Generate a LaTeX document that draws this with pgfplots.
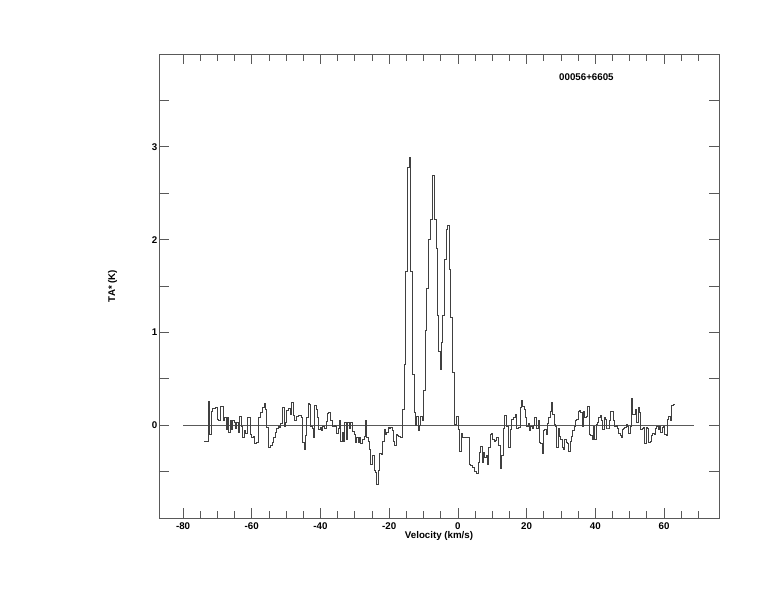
\documentclass[border=0pt]{standalone}
\usepackage{pgfplots}
\pgfplotsset{compat=1.18}
\usepackage{fontspec}
\setmainfont{Liberation Sans}
\begin{document}
\begin{tikzpicture}
\useasboundingbox (-119.25pt,-70.5pt) rectangle (461.25pt,388.5pt);
\begin{axis}[
  at={(0,0)}, anchor=south west,
  scale only axis, width=420pt, height=348pt,
  xmin=-87, xmax=76, ymin=-1, ymax=4,
  axis line style={black!65, line width=0.6pt},
  every tick/.style={black!65, line width=0.6pt},
  tick align=inside,
  major tick length=7.5pt, minor tick length=5.5pt,
  xtick={-80,-60,...,60},
  minor xtick={-75,-70,...,70},
  ytick={-0.5,0,...,3.5},
  yticklabels={,0,,1,,2,,3,},
  /pgf/number format/assume math mode=true,
  ticklabel style={font=\fontsize{7.3}{8}\selectfont\bfseries},
  xticklabel style={inner sep=0pt, yshift=-3.5pt},
  yticklabel style={inner sep=0pt, xshift=-1pt},
  xlabel={\fontsize{7.3}{8}\selectfont\bfseries Velocity (km/s)},
  ylabel={\fontsize{7.3}{8}\selectfont\bfseries TA* (K)},
  xlabel style={inner sep=0pt, yshift=-1pt},
  ylabel style={inner sep=0pt, yshift=26pt},
  clip=false,
]
\addplot[black!65, line width=0.6pt] coordinates {(-80,0) (68.6,0)};
\addplot[const plot, black!75, line width=0.6pt] coordinates {
(-73.88,-0.17) (-72.72,0.26) (-72.33,-0.10) (-71.75,0.15) (-71.36,0.18) (-70.59,0.19)
(-70.00,0.06) (-69.60,0.05) (-69.00,0.20) (-68.26,0.05) (-67.87,0.08) (-67.48,-0.04)
(-67.09,0.08) (-66.70,-0.08) (-66.32,0.05) (-65.93,-0.04) (-65.54,0.05) (-65.15,0.03)
(-64.77,-0.03) (-64.38,0.03) (-63.99,-0.08) (-63.60,0.09) (-63.02,-0.01) (-62.63,-0.13)
(-62.24,-0.06) (-61.85,-0.09) (-61.27,0.08) (-60.50,-0.10) (-60.11,-0.13) (-59.53,-0.12)
(-59.14,-0.20) (-58.56,-0.19) (-58.17,0.08) (-57.59,0.14) (-57.01,0.19) (-56.42,0.24)
(-56.04,0.17) (-55.65,-0.02) (-55.07,-0.24) (-54.48,-0.22) (-54.10,-0.19) (-53.71,-0.13)
(-53.13,-0.08) (-52.74,-0.03) (-52.35,-0.01) (-51.96,-0.02) (-51.57,0.02) (-50.99,0.19)
(-50.60,-0.01) (-50.22,0.03) (-49.83,0.16) (-49.45,0.18) (-48.86,0.12) (-48.48,0.245)
(-47.89,0.11) (-47.50,0.05) (-47.12,0.09) (-46.54,0.11) (-45.57,0.08) (-45.18,-0.19)
(-44.79,-0.26) (-44.40,-0.11) (-44.01,0.08) (-43.63,0.23) (-43.24,0.22) (-42.85,-0.01)
(-42.46,-0.03) (-42.07,-0.13) (-41.69,0.21) (-41.30,0.17) (-40.91,0.08) (-40.52,-0.04)
(-40.13,-0.02) (-39.75,-0.06) (-39.36,-0.01) (-38.97,-0.03) (-38.39,0.04) (-38.00,0.13)
(-37.61,0.14) (-37.03,0.05) (-36.64,-0.01) (-36.06,0.00) (-35.67,-0.01) (-35.28,-0.09)
(-34.90,-0.03) (-34.51,0.05) (-34.12,-0.17) (-33.73,-0.08) (-33.34,-0.17) (-32.96,0.03)
(-32.57,-0.15) (-32.18,0.03) (-31.60,-0.03) (-31.21,0.03) (-30.63,-0.07) (-30.24,-0.10)
(-29.85,-0.19) (-29.46,-0.13) (-29.08,-0.19) (-28.69,-0.13) (-28.30,-0.20) (-27.91,-0.15)
(-27.33,-0.12) (-26.94,0.05) (-26.55,-0.13) (-26.17,-0.17) (-25.78,-0.26) (-25.39,-0.42)
(-25.00,-0.39) (-24.80,-0.33) (-24.42,-0.49) (-24.03,-0.51) (-23.64,-0.64) (-23.25,-0.49)
(-22.86,-0.30) (-22.28,-0.31) (-21.89,-0.17) (-21.50,-0.04) (-21.12,-0.10) (-20.73,-0.08)
(-20.34,-0.02) (-19.95,-0.03) (-19.57,-0.02) (-19.18,-0.06) (-18.79,-0.17) (-18.40,-0.22)
(-18.01,-0.10) (-17.63,-0.11) (-17.24,-0.12) (-16.66,-0.13) (-16.07,0.17) (-15.69,0.65)
(-15.30,1.66) (-14.72,2.78) (-14.10,2.89) (-13.75,1.66) (-13.16,0.55) (-12.78,0.14)
(-12.39,0.00) (-12.00,0.10) (-11.61,-0.06) (-11.22,0.00) (-10.84,0.10) (-10.45,0.05)
(-10.06,0.37) (-9.48,1.02) (-9.09,1.47) (-8.51,2.00) (-7.93,2.22) (-7.34,2.69)
(-6.96,2.22) (-6.37,1.90) (-5.99,1.18) (-5.60,0.80) (-5.21,0.60) (-4.82,0.89)
(-4.43,1.18) (-4.05,1.79) (-3.46,2.11) (-3.08,2.15) (-2.49,1.68) (-2.11,1.16)
(-1.52,0.57) (-0.94,0.01) (-0.36,0.10) (0.03,-0.05) (0.42,-0.28) (1.01,-0.09)
(1.40,-0.13) (1.98,-0.13) (3.34,-0.42) (3.72,-0.43) (4.11,-0.45) (4.69,-0.50)
(5.28,-0.52) (5.86,-0.40) (6.25,-0.29) (6.63,-0.23) (7.02,-0.40) (7.41,-0.29)
(7.80,-0.35) (8.19,-0.33) (8.57,-0.42) (8.96,-0.24) (9.35,-0.10) (9.74,-0.09)
(10.13,-0.15) (10.51,-0.17) (10.90,-0.16) (11.29,-0.13) (11.87,-0.22) (12.26,-0.47)
(12.65,-0.33) (13.23,-0.03) (13.62,0.11) (14.01,-0.01) (14.39,-0.01) (14.78,-0.24)
(15.17,-0.04) (15.56,0.06) (16.14,0.08) (16.72,0.12) (17.11,-0.03) (17.50,-0.02)
(18.08,0.19) (18.47,0.27) (18.86,0.20) (19.24,0.17) (19.63,0.08) (20.02,-0.01)
(20.41,0.02) (20.80,-0.06) (21.18,-0.01) (21.57,-0.03) (21.96,0.00) (22.35,0.08)
(22.93,-0.03) (23.31,0.05) (23.70,-0.19) (24.09,-0.20) (24.48,-0.30) (24.87,-0.06)
(25.25,-0.04) (25.64,-0.10) (26.03,0.02) (26.42,0.08) (26.81,0.15) (27.19,0.25)
(27.58,0.12) (27.97,0.01) (28.36,-0.01) (28.75,-0.24) (29.13,-0.03) (29.52,-0.12)
(29.91,-0.15) (30.30,-0.24) (30.69,-0.26) (31.07,-0.15) (31.46,-0.19) (31.85,-0.20)
(32.24,-0.28) (32.63,-0.17) (33.01,-0.12) (33.40,-0.06) (33.79,-0.01) (34.18,0.05)
(34.57,0.06) (34.95,0.15) (35.34,0.16) (35.73,0.14) (36.12,-0.01) (36.51,0.15)
(36.89,0.08) (37.28,0.10) (37.67,0.20) (38.25,-0.10) (38.64,-0.11) (39.03,-0.15)
(39.42,-0.01) (39.80,-0.15) (40.19,0.01) (40.58,0.03) (40.97,0.08) (41.36,0.11)
(41.74,0.05) (42.13,-0.04) (42.52,0.08) (42.91,0.06) (43.30,-0.03) (43.68,-0.03)
(44.07,0.05) (44.46,0.15) (44.85,0.15) (45.24,0.05) (45.62,-0.01) (46.01,0.00)
(46.40,-0.03) (46.79,-0.09) (47.18,-0.11) (47.56,-0.13) (47.95,-0.05) (48.15,-0.03)
(48.54,-0.02) (48.93,0.01) (49.32,-0.01) (49.70,-0.09) (50.09,-0.01) (50.48,0.29)
(50.87,0.12) (51.26,0.12) (51.64,0.17) (52.03,0.03) (52.42,0.19) (52.81,0.14)
(53.20,-0.04) (53.58,-0.03) (53.97,-0.02) (54.36,-0.20) (54.75,-0.02) (55.14,-0.03)
(55.52,-0.19) (55.91,-0.17) (56.30,-0.11) (56.69,-0.09) (57.08,-0.10) (57.46,-0.03)
(57.85,-0.01) (58.24,-0.04) (58.63,-0.01) (59.02,-0.08) (59.40,-0.02) (59.79,-0.01)
(60.18,-0.10) (60.57,-0.11) (60.96,0.06) (61.34,0.09) (61.73,0.05) (62.12,0.21)
(62.70,0.22) (63.09,0.22)
};
\node[font=\fontsize{7.3}{8}\selectfont\bfseries, inner sep=0pt] at (axis cs:37.4,3.75) {00056+6605};
\end{axis}
\end{tikzpicture}
\end{document}
